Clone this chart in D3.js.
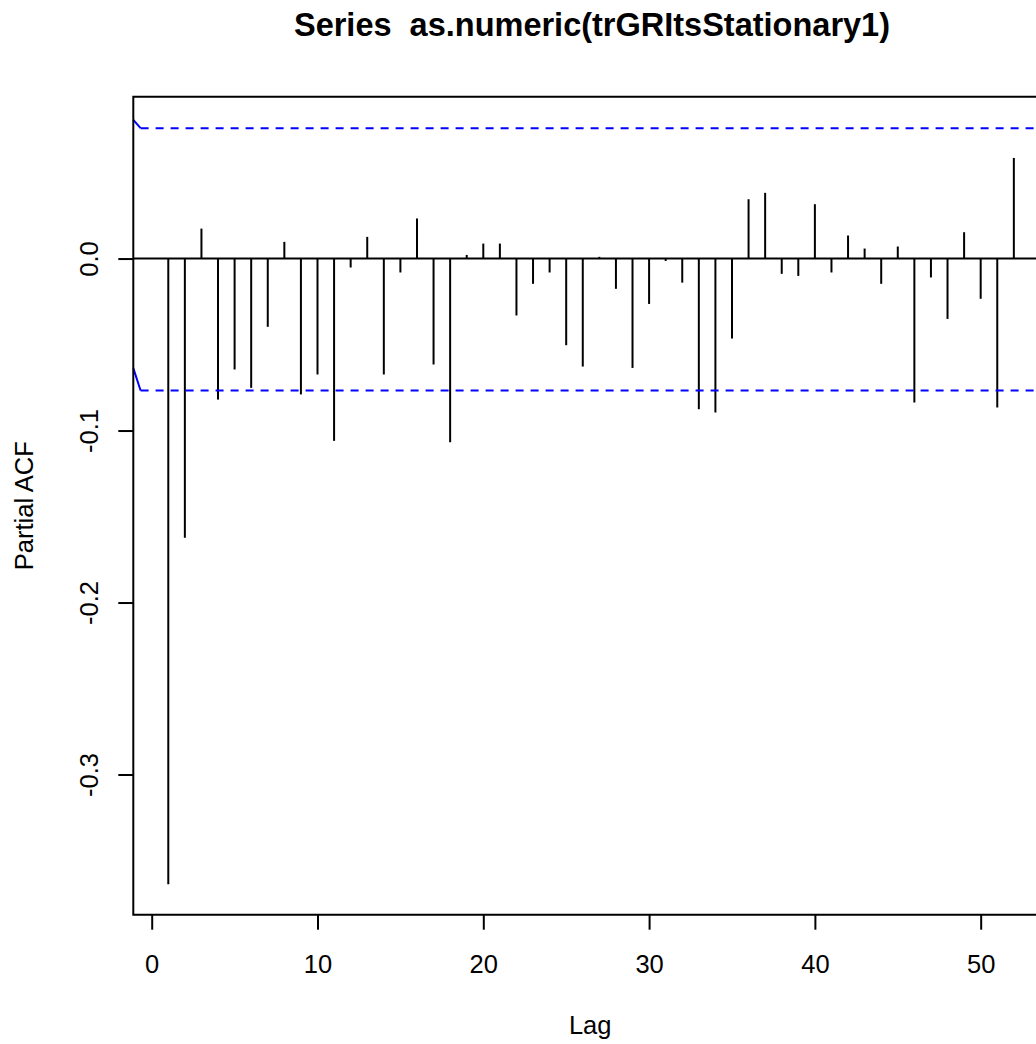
<!DOCTYPE html>
<html>
<head>
<meta charset="utf-8">
<script src="https://cdnjs.cloudflare.com/ajax/libs/d3/7.8.5/d3.min.js"></script>
<style>
  body{margin:0;background:#fff;}
  svg{display:block;}
  text{font-family:"Liberation Sans",Arial,Helvetica,sans-serif;fill:#000;}
</style>
</head>
<body>
<div class="plot"></div>
<script>
//Data
var lags = [1,2,3,4,5,6,7,8,9,10,11,12,13,14,15,16,17,18,19,20,21,22,23,24,25,26,
            27,28,29,30,31,32,33,34,35,36,37,38,39,40,41,42,43,44,45,46,47,48,49,50,51,52];
var pacf = [-0.3638,-0.1624,0.0174,-0.0820,-0.0645,-0.0752,-0.0397,0.0097,-0.0790,-0.0674,
            -0.1060,-0.0052,0.0126,-0.0674,-0.0081,0.0233,-0.0616,-0.1068,0.0021,0.0087,
            0.0087,-0.0331,-0.0147,-0.0081,-0.0504,-0.0628,0.0010,-0.0176,-0.0636,-0.0264,
            -0.0014,-0.0140,-0.0876,-0.0895,-0.0465,0.0345,0.0382,-0.0089,-0.0101,0.0316,
            -0.0081,0.0134,0.0058,-0.0147,0.0070,-0.0837,-0.0110,-0.0351,0.0153,-0.0234,
            -0.0866,0.0585];
var ciLimits = [0.0758,-0.0767];
var ciStart = [0.0806,-0.0637];   //little slanted bit at the left edge
var xTicks = [0,10,20,30,40,50];
var yTicks = [-0.3,-0.2,-0.1,0.0];
var title = 'Series  as.numeric(trGRItsStationary1)';

var W = 1036, H = 1044;
var m = {t:96.7, l:133.3, b:914.7, r:1047};

var svg = d3.select('.plot').append('svg')
    .attr('width',W).attr('height',H);

//Scales
var scaleX = d3.scaleLinear().domain([-1.11,54.0]).range([m.l,m.r]);
var scaleY = d3.scaleLinear().domain([-0.3815,0.0941]).range([m.b,m.t]);

//Zero line
svg.append('line')
    .attr('x1',m.l).attr('x2',W)
    .attr('y1',scaleY(0)).attr('y2',scaleY(0))
    .style('stroke','#000').style('stroke-width',2);

//Spikes
var data = lags.map(function(d,i){return {lag:d, v:pacf[i]};});
svg.selectAll('.spike')
    .data(data)
  .enter().append('line')
    .attr('class','spike')
    .attr('x1',function(d){return scaleX(d.lag);})
    .attr('x2',function(d){return scaleX(d.lag);})
    .attr('y1',scaleY(0))
    .attr('y2',function(d){return scaleY(d.v);})
    .style('stroke','#000').style('stroke-width',2);

//Confidence limits
var xDash = -0.67;
svg.selectAll('.ci')
    .data(ciLimits)
  .enter().append('line')
    .attr('class','ci')
    .attr('x1',scaleX(xDash)).attr('x2',W)
    .attr('y1',function(d){return scaleY(d);})
    .attr('y2',function(d){return scaleY(d);})
    .style('stroke','#0000ff').style('stroke-width',2)
    .style('stroke-dasharray','8,7');
svg.selectAll('.ci-start')
    .data(ciLimits)
  .enter().append('line')
    .attr('class','ci-start')
    .attr('x1',scaleX(-1.11)).attr('x2',scaleX(xDash))
    .attr('y1',function(d,i){return scaleY(ciStart[i]);})
    .attr('y2',function(d){return scaleY(d);})
    .style('stroke','#0000ff').style('stroke-width',2);

//Box (right side falls off the page)
svg.append('path')
    .attr('d','M'+W+','+m.t+'H'+m.l+'V'+m.b+'H'+W)
    .style('fill','none').style('stroke','#000').style('stroke-width',2);

//Axes
var axisX = d3.axisBottom(scaleX).tickValues(xTicks).tickSize(15).tickPadding(0)
    .tickFormat(d3.format('d'));
var gx = svg.append('g').attr('class','axis')
    .attr('transform','translate(0,'+m.b+')');
axisX(gx);
gx.select('.domain').remove();
gx.selectAll('line').style('stroke','#000').style('stroke-width',2);
gx.selectAll('text')
    .attr('y',58).attr('dy',null)
    .style('font-size','25.5px');

var axisY = d3.axisLeft(scaleY).tickValues(yTicks).tickSize(15)
    .tickFormat(d3.format('.1f'));
var gy = svg.append('g').attr('class','axis')
    .attr('transform','translate('+m.l+',0)');
axisY(gy);
gy.select('.domain').remove();
gy.selectAll('line').style('stroke','#000').style('stroke-width',2);
gy.selectAll('text')
    .attr('x',null).attr('dy',null)
    .attr('text-anchor','middle')
    .attr('transform','translate(-35,0) rotate(-90)')
    .style('font-size','25.5px');
gy.selectAll('text').text(function(d){return d3.format('.1f')(d).replace('−','-');});
gy.style('font-family',null); gx.style('font-family',null);

//Labels
svg.append('text')
    .attr('x',592).attr('y',36)
    .attr('text-anchor','middle')
    .style('white-space','pre')
    .style('font-weight','bold').style('font-size','32.5px')
    .text(title);
svg.append('text')
    .attr('x',(m.l+m.r)/2).attr('y',1034)
    .attr('text-anchor','middle')
    .style('font-size','25.5px')
    .text('Lag');
svg.append('text')
    .attr('transform','translate(33,'+(m.t+m.b)/2+') rotate(-90)')
    .attr('text-anchor','middle')
    .style('font-size','25.5px')
    .text('Partial ACF');
</script>
</body>
</html>
